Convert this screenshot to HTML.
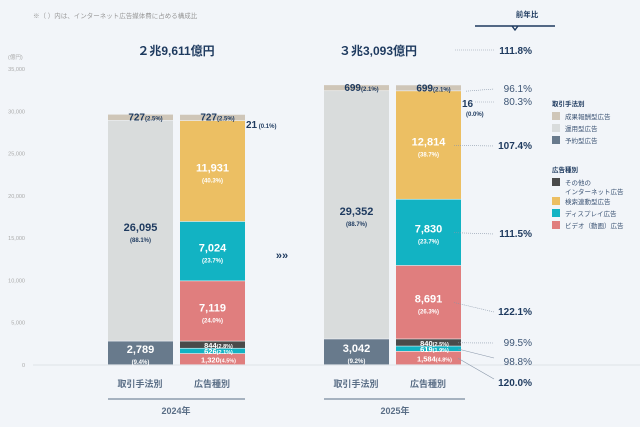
<!DOCTYPE html>
<html><head><meta charset="utf-8"><style>
body{margin:0;background:#f2f5f9;}
svg{display:block;font-family:"Liberation Sans","Noto Sans CJK JP",sans-serif;}
</style></head><body>
<svg id="c" width="640" height="427" viewBox="0 0 640 427">
<rect width="640" height="427" fill="#f2f5f9"/>
<text x="33" y="18" font-size="6.5" fill="#999">※（ ）内は、インターネット広告媒体費に占める構成比</text>
<text x="8" y="59" font-size="5.5" fill="#aaa">(億円)</text>
<text x="176" y="55" font-size="12" font-weight="bold" fill="#1e3a5f" text-anchor="middle">２兆9,611億円</text>
<text x="378" y="55" font-size="12" font-weight="bold" fill="#1e3a5f" text-anchor="middle">３兆3,093億円</text>
<text x="527" y="17" font-size="7.5" font-weight="bold" fill="#1e3a5f" text-anchor="middle">前年比</text>
<path d="M475 26 H555 M512 26 L515 30 L518 26" stroke="#1e3a5f" stroke-width="1.4" fill="none"/>
<text x="282" y="259" font-size="11" font-weight="bold" fill="#1e3a5f" text-anchor="middle">»»</text>
<g id="g"></g>
</svg>
<script>
const ticks=[0,5000,10000,15000,20000,25000,30000,35000];
const years=["2024年","2025年"];
const method2024=[2789,26095,727];
const method2025=[3042,29352,699];
const methodPct2024=["9.4%","88.1%","2.5%"];
const methodPct2025=["9.2%","88.7%","2.1%"];
const type2024=[1320,626,844,7119,7024,11931,727,21];
const type2025=[1584,619,840,8691,7830,12814,699,16];
const typePct2024=["4.5%","2.1%","2.8%","24.0%","23.7%","40.3%","2.5%","0.1%"];
const typePct2025=["4.8%","1.9%","2.5%","26.3%","23.7%","38.7%","2.1%","0.0%"];
const yoy=["120.0%","98.8%","99.5%","122.1%","111.5%","107.4%","96.1%","80.3%"];
const yoyTotal="111.8%";
const methodColors=["#687a8c","#d9dcdc","#cfc6b8"];
const typeColors=["#e07e7e","#12b3c3","#4a4a4a","#e07e7e","#12b3c3","#ecbf63","#cfc6b8","#4a4a4a"];
const NS="http://www.w3.org/2000/svg";
const g=document.getElementById('g');
const y=v=>365-v*296/35000;
function el(t,a,txt){const e=document.createElementNS(NS,t);for(const k in a)e.setAttribute(k,a[k]);if(txt!=null)e.textContent=txt;g.appendChild(e);return e;}
ticks.forEach(t=>{const e=el('text',{x:25,y:y(t)+2,'font-size':5.5,fill:'#aaa','text-anchor':'end'},t.toLocaleString('en-US'));

});
const ax=el('line',{x1:33,x2:640,y1:365,y2:365,stroke:'#dde2e8','stroke-width':1});


function stack(vals,pcts,cols,x,w,kind){
 let c=0;
 vals.forEach((v,i)=>{const y0=y(c),y1=y(c+v);c+=v;
  const r=el('rect',{x:x,y:y1,width:w,height:Math.max(0,y0-y1-0.6),fill:cols[i]});
  
  
  const h=y0-y1, cx=x+w/2, mid=(y0+y1)/2;
  const dark=cols[i]=="#d9dcdc"||cols[i]=="#cfc6b8";
  const fc=dark?'#1e3a5f':'#fff';
  if(h>20){
   const a=el('text',{x:cx,y:mid,'font-size':11,'font-weight':'bold',fill:fc,'text-anchor':'middle'},v.toLocaleString('en-US'));
   
   
   const b=el('text',{x:cx,y:mid+11,'font-size':6,'font-weight':'bold',fill:fc,'text-anchor':'middle'},'('+pcts[i]+')');
   
   
  } else if(h>2.5 || cols[i]=="#cfc6b8"){
   const t=el('text',{x:cx+(cols[i]=="#cfc6b8"?5:6),y:cols[i]=="#cfc6b8"?y1+6:mid+3,'font-size':cols[i]=="#cfc6b8"?10:7.5,'font-weight':'bold',fill:fc,'text-anchor':'middle'});
   
   
   t.innerHTML=v.toLocaleString('en-US')+'<tspan font-size="'+(cols[i]=="#cfc6b8"?6:5.5)+'">('+pcts[i]+')</tspan>';
  }
 });
}
stack(method2024,methodPct2024,methodColors,108,65,'method-2024');
stack(type2024,typePct2024,typeColors,180,65,'type-2024');
stack(method2025,methodPct2025,methodColors,324,65,'method-2025');
stack(type2025,typePct2025,typeColors,396,65,'type-2025');
// tiny top segments labels
function lbl(x,yy,big,small,name){const t=el('text',{x:x,y:yy,'font-size':10,'font-weight':'bold',fill:'#1e3a5f'});


t.innerHTML=big+'<tspan font-size="6"> '+small+'</tspan>';}
lbl(246,128,type2024[7],'('+typePct2024[7]+')','label-other-top-2024');
const t16=el('text',{x:462,y:107,'font-size':10,'font-weight':'bold',fill:'#1e3a5f'},type2025[7]);


const t16b=el('text',{x:466,y:116,'font-size':6,'font-weight':'bold',fill:'#1e3a5f'},'('+typePct2025[7]+')');


// yoy column
const cum=[];let cc=0;type2025.forEach(v=>{cum.push([cc,cc+v]);cc+=v;});
const yoyY=[383,362,343,312,234,146,89,102];
const bold=[true,false,false,true,true,true,false,false];
yoy.forEach((p,i)=>{
 const t=el('text',{x:532,y:yoyY[i]+3,'font-size':bold[i]?10:10,'font-weight':bold[i]?'bold':'normal',fill:bold[i]?'#1e3a5f':'#3d5575','text-anchor':'end'},p);
 
 
 const m=(y(cum[i][0])+y(cum[i][1]))/2;
 const sx=i==7?475:(i<3?458:(i==6?466:454));
 const sy=i==7?yoyY[i]:(i==6?y(cum[i][0]):m);
 const l=el('line',{x1:sx,y1:sy,x2:494,y2:yoyY[i]-(i<2?4:0),stroke:'#8896a8','stroke-width':0.6,'stroke-dasharray':i<2?'none':'1 1'});
 
 
});
const tt=el('text',{x:532,y:54,'font-size':10,'font-weight':'bold',fill:'#1e3a5f','text-anchor':'end'},yoyTotal);


const tl=el('line',{x1:455,x2:494,y1:50,y2:50,stroke:'#8896a8','stroke-width':0.6,'stroke-dasharray':'1 1'});


// bottom labels
[[140,212,108,245,176],[356,428,324,465,395]].forEach((p,k)=>{
 const a=el('text',{x:p[0],y:387,'font-size':9,fill:'#5a6e86','text-anchor':'middle','font-weight':'bold'},'取引手法別');
 
 
 const b=el('text',{x:p[1],y:387,'font-size':9,fill:'#5a6e86','text-anchor':'middle','font-weight':'bold'},'広告種別');
 
 
 const l=el('line',{x1:p[2],x2:p[3],y1:399,y2:399,stroke:'#5a6e86','stroke-width':1});
 
 
 const yr=el('text',{x:p[4],y:414,'font-size':9,fill:'#5a6e86','text-anchor':'middle','font-weight':'bold'},years[k]);
 
 
});
// legend
const legend=[["取引手法別",null,106],["成果報酬型広告","#cfc6b8",119],["運用型広告","#d9dcdc",131],["予約型広告","#687a8c",143],
["広告種別",null,172],["その他の","#4a4a4a",185],["検索連動型広告","#ecbf63",204],["ディスプレイ広告","#12b3c3",216],["ビデオ（動画）広告","#e07e7e",228]];
legend.forEach(d=>{
 if(!d[1]){const h=el('text',{x:552,y:d[2],'font-size':6.5,'font-weight':'bold',fill:'#1e3a5f'},d[0]);
  
  return;}
 const r=el('rect',{x:552,y:d[2]-7,width:8,height:8,fill:d[1]});
 
 
 const t=el('text',{x:565,y:d[2],'font-size':6.5,fill:'#3d5575'},d[0]);
 
 
});
const t2=el('text',{x:565,y:194,'font-size':6.5,fill:'#3d5575'},'インターネット広告');


</script>
</body></html>
